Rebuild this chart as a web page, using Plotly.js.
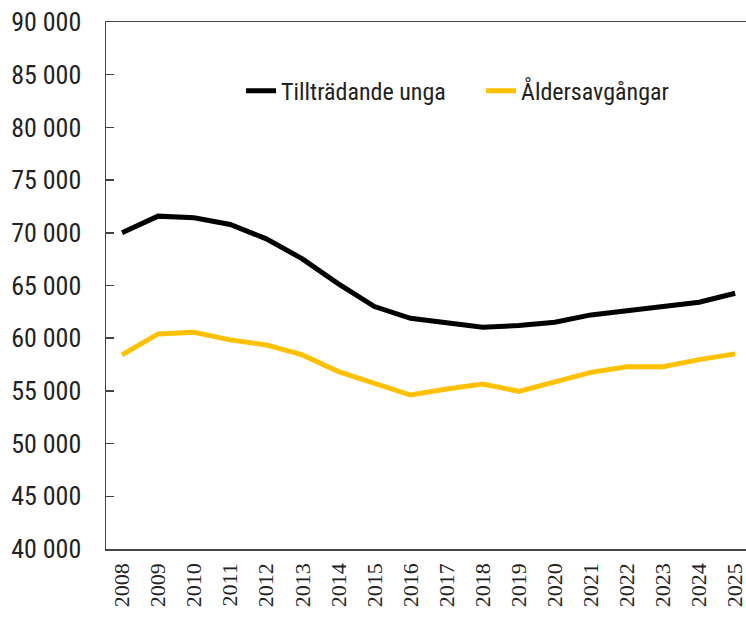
<!DOCTYPE html>
<html>
<head>
<meta charset="utf-8">
<script src="https://cdn.plot.ly/plotly-3.0.1.min.js"></script>
<style>html,body{margin:0;padding:0;background:#fff;}#chart{width:746px;height:623px;}</style>
</head>
<body>
<div id="chart"></div>
<script>
const years = ["2008","2009","2010","2011","2012","2013","2014","2015","2016","2017","2018","2019","2020","2021","2022","2023","2024","2025"];
const tilltradandeUnga = [70000,71580,71420,70790,69430,67530,65160,63000,61890,61410,61030,61200,61510,62210,62620,63000,63410,64260];
const aldersavgangar = [58410,60410,60560,59840,59360,58410,56830,55750,54610,55180,55660,54960,55910,56760,57300,57300,57970,58510];
const seriesNames = ["Tillträdande unga","Åldersavgångar"];
const yTickVals = [40000,45000,50000,55000,60000,65000,70000,75000,80000,85000,90000];
const yTickText = yTickVals.map(v => String(v).replace(/(\d)(?=(\d{3})+$)/g, "$1 "));

const narrow = "'Liberation Sans Narrow', 'Arial Narrow', 'Roboto Condensed', sans-serif";

const traces = [
  {x: years, y: tilltradandeUnga, name: seriesNames[0], type: "scatter", mode: "lines",
   line: {color: "#000000", width: 5}},
  {x: years, y: aldersavgangar, name: seriesNames[1], type: "scatter", mode: "lines",
   line: {color: "#FFC000", width: 5}}
];

const layout = {
  width: 746, height: 623,
  margin: {l: 106, r: 0, t: 22, b: 74, pad: 0},
  paper_bgcolor: "#fff", plot_bgcolor: "#fff",
  showlegend: true,
  legend: {orientation: "h", x: 0.961, xanchor: "right", y: 0.869, yanchor: "middle",
    font: {family: narrow, size: 24, color: "#222"}, entrywidth: 195, entrywidthmode: "pixels",
    bgcolor: "rgba(0,0,0,0)", itemclick: false},
  xaxis: {type: "category", range: [-0.444, 17.3], showgrid: false, zeroline: false,
    showline: true, linecolor: "#444", linewidth: 1.5, mirror: true, ticks: "",
    tickangle: -90, tickfont: {family: "'Liberation Serif', 'DejaVu Serif', serif", size: 22, color: "#222"},
    ticklabelstandoff: 4},
  yaxis: {range: [40000, 90000], tickvals: yTickVals, ticktext: yTickText, showgrid: false,
    zeroline: false, showline: true, linecolor: "#444", linewidth: 1.5, ticks: "inside",
    ticklen: 8, tickwidth: 1.5, tickcolor: "#444",
    tickfont: {family: narrow, size: 26, color: "#222"}, ticklabelstandoff: 18}
};

Plotly.newPlot("chart", traces, layout, {displayModeBar: false, staticPlot: true});
</script>
</body>
</html>
